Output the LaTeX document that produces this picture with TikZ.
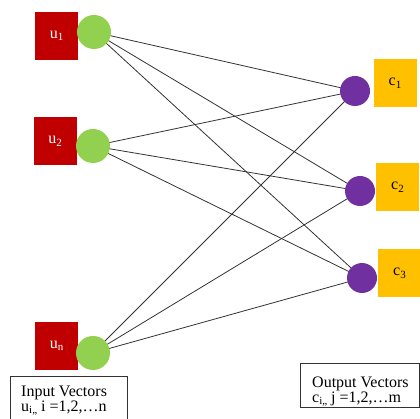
\documentclass[tikz,border=0pt]{standalone}
\usepackage{fontspec}
\setmainfont{Liberation Serif}
\definecolor{ured}{HTML}{C00000}
\definecolor{ugreen}{HTML}{92D050}
\definecolor{cpurple}{HTML}{7030A0}
\definecolor{corange}{HTML}{FFC000}
\tikzset{
  ubox/.style={fill=ured, minimum width=43pt, minimum height=48pt, inner sep=0pt, text=white, font=\fontsize{16}{16}\selectfont},
  gnode/.style={circle, fill=ugreen, minimum size=34pt, inner sep=0pt},
  pnode/.style={circle, fill=cpurple, minimum size=30pt, inner sep=0pt},
  cbox/.style={fill=corange, minimum width=43pt, minimum height=48pt, inner sep=0pt, text=black, font=\fontsize{16}{16}\selectfont},
  link/.style={draw=black!80, line width=0.8pt},
  legend/.style={draw=black!80, line width=0.8pt, inner sep=0pt},
  legtext/.style={anchor=north west, inner sep=0pt, align=left, font=\fontsize{16}{14.5}\selectfont}
}
\newcommand{\sbs}[1]{\raisebox{-0.35ex}{\fontsize{11}{11}\selectfont #1}}
\begin{document}
\begin{tikzpicture}[x=1pt,y=-1pt]
\useasboundingbox (0,0) rectangle (420,419);
% input squares
\node[ubox] (u1) at (56.5,36) {u\sbs{1}};
\node[ubox] (u2) at (55,141.5) {u\sbs{2}};
\node[ubox] (un) at (56.5,346) {u\sbs{n}};
% output squares
\node[cbox] (c1) at (395,83) {c\sbs{1}};
\node[cbox] (c2) at (397.5,187) {c\sbs{2}};
\node[cbox] (c3) at (399.5,273) {c\sbs{3}};
% coordinates of neurons
\coordinate (g1) at (94,32);
\coordinate (g2) at (93,146);
\coordinate (gn) at (93,353);
\coordinate (p1) at (355,91);
\coordinate (p2) at (360,191);
\coordinate (p3) at (362,278);
% links
\foreach \g in {g1,g2,gn}{
  \foreach \p in {p1,p2,p3}{
    \draw[link] (\g) -- (\p);
  }
}
% neurons
\node[gnode] (n1) at (g1) {};
\node[gnode] (n2) at (g2) {};
\node[gnode] (nn) at (gn) {};
\node[pnode] (m1) at (p1) {};
\node[pnode] (m2) at (p2) {};
\node[pnode] (m3) at (p3) {};
% legend boxes
\draw[legend] (10,376) rectangle (127,430);
\node[legtext] (inlab) at (21,386) {Input Vectors\\u\sbs{i,,} i =1,2,\ldots n};
\draw[legend] (300,363) rectangle (419,407);
\node[legtext] (outlab) at (312,377) {Output Vectors\\c\sbs{i,,} j =1,2,\ldots m};
\end{tikzpicture}
\end{document}
